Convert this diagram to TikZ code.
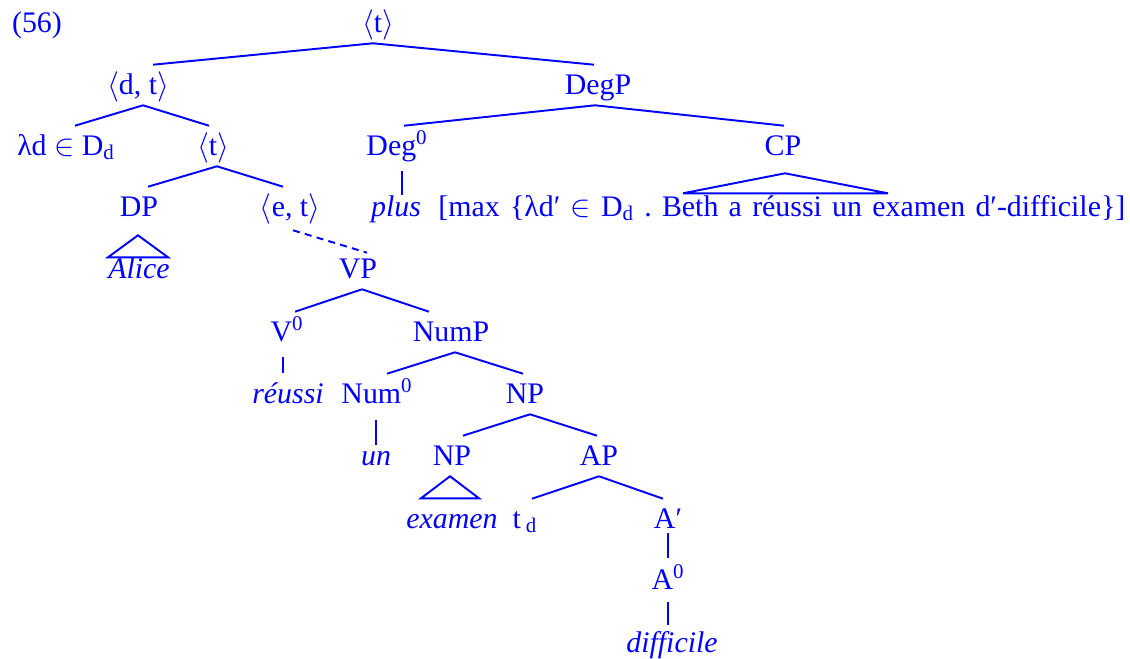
\documentclass[tikz,border=0pt]{standalone}
\usepackage{fontspec}
\setmainfont{Liberation Serif}
\usetikzlibrary{calc}
\tikzset{
	lbl/.style={font=\fontsize{17}{20}\selectfont, text height=12pt, text depth=1.5pt, inner xsep=1pt, inner ysep=4.6pt},
	br/.style={line width=1.1pt},
}
\newcommand{\ang}[1]{$\langle$#1$\rangle$}
\newcommand{\sbd}{\textsubscript{d}}

\begin{document}
\frenchspacing
\begin{tikzpicture}[x=0.02cm, y=-0.02cm, blue, every node/.style={lbl}]
		%%%%% START %%%%%
		\useasboundingbox (0,0) rectangle (1130,659);
		
		\node (ex) at (37,23) {(56)};
		\node (top) at (378,23) {\ang{t}};
		
		\node (dt) at (138,85) {\ang{d, t}};
		\node (degp) at (598,85) {DegP};
		
		\node (lam) at (66,146) {λd $\in$ D\sbd};
		\node (t2) at (213,146) {\ang{t}};
		\node (deg) at (397,146) {Deg\textsuperscript{0}};
		\node (cp) at (783,146) {CP};
		
		\node (dp) at (139,207) {DP};
		\node (et) at (290,207) {\ang{e, t}};
		\node (plus) at (396,207) {\itshape plus};
		\node[anchor=west, inner xsep=0pt] (cpx) at (438,207) {\makebox[13.74cm][s]{[max \{λd′ $\in$ D\sbd{} . Beth a réussi un examen d′-difficile\}]}};
		
		\node (alice) at (139,269) {\itshape Alice};
		\node (vp) at (358,269) {VP};
		
		\node (v0) at (287,332) {V\textsuperscript{0}};
		\node (nump) at (451,332) {NumP};
		
		\node (reussi) at (288,394) {\itshape réussi};
		\node (num0) at (377,394) {Num\textsuperscript{0}};
		\node (np) at (525,394) {NP};
		
		\node (un) at (376,456) {\itshape un};
		\node (np2) at (452,456) {NP};
		\node (ap) at (599,456) {AP};
		
		\node (examen) at (452,519) {\itshape examen};
		\node (td) at (525,519) {t\,\sbd};
		\node (aprime) at (668,519) {A′};
		
		\node (a0) at (668,580) {A\textsuperscript{0}};
		\node (diff) at (672,643) {\itshape difficile};
		
		% branches
		\draw[br] ($(top.south)+(-5,0)$) -- ($(dt.north)+(15,0)$);
		\draw[br] ($(top.south)+(-5,0)$) -- ($(degp.north)+(-4,0)$);
		\draw[br] ($(dt.south)+(5,0)$) -- ($(lam.north)+(9,0)$);
		\draw[br] ($(dt.south)+(5,0)$) -- ($(t2.north)+(-4,0)$);
		\draw[br] ($(degp.south)+(-3,0)$) -- ($(deg.north)+(7,0)$);
		\draw[br] ($(degp.south)+(-3,0)$) -- ($(cp.north)+(1,0)$);
		\draw[br] ($(t2.south)+(4,0)$) -- ($(dp.north)+(9,0)$);
		\draw[br] ($(t2.south)+(4,0)$) -- ($(et.north)+(-7,0)$);
		\draw[br, dash pattern=on 4pt off 3pt] ($(et.south)+(3,3)$) -- ($(vp.north)+(9,4)$);
		\draw[br] ($(vp.south)+(4,0)$) -- ($(v0.north)+(8,0)$);
		\draw[br] ($(vp.south)+(4,0)$) -- ($(nump.north)+(-22,0)$);
		\draw[br] ($(nump.south)+(4,0)$) -- ($(num0.north)+(10,0)$);
		\draw[br] ($(nump.south)+(4,0)$) -- ($(np.north)+(-2,0)$);
		\draw[br] ($(np.south)+(5,0)$) -- ($(np2.north)+(11,0)$);
		\draw[br] ($(np.south)+(5,0)$) -- ($(ap.north)+(-2,0)$);
		\draw[br] (ap.south) -- ($(td.north)+(7,0)$);
		\draw[br] (ap.south) -- ($(aprime.north)+(-5,0)$);
		
		% unary lines
		\draw[br] ($(deg.south)+(5,5)$) -- ($(deg.south |- plus.north)+(5,8)$);
		\draw[br] ($(v0.south)+(-4,5)$) -- ($(v0.south |- reussi.north)+(-4,-1)$);
		\draw[br] ($(num0.south)+(-1,6)$) -- ($(num0.south |- un.north)+(-1,9)$);
		\draw[br] ($(aprime.south)+(0,-6)$) -- ($(aprime.south |- a0.north)+(0,-2)$);
		\draw[br] ($(a0.south)+(0,2)$) -- ($(a0.south |- diff.north)+(0,2)$);
		
		% triangles
		\draw[br] (dp.south) ++(-1,8) -- ++(-30,22) -- ++(60,0) -- cycle;
		\draw[br] (cp.south) ++(2,7) -- ++(-102,20) -- ++(205,0) -- cycle;
		\draw[br] (np2.south) ++(-2,0) -- ++(-29,22) -- ++(58,0) -- cycle;
		
		%%%%% END %%%%%
\end{tikzpicture}
\end{document}
